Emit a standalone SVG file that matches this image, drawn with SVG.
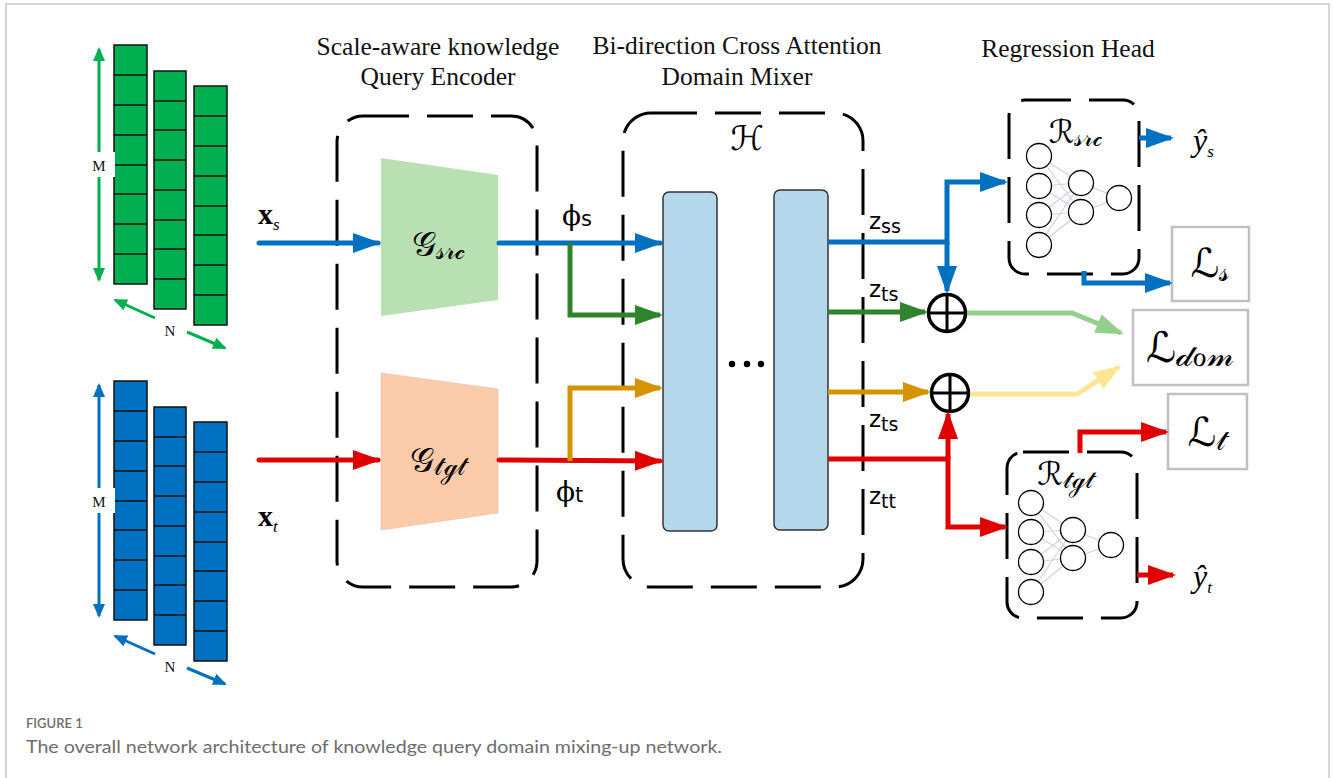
<svg xmlns="http://www.w3.org/2000/svg" width="1333" height="778" viewBox="0 0 1333 778">
<style>
.title{font-family:"Liberation Serif","Times New Roman",serif;font-size:25.5px;fill:#111;text-anchor:middle}
.dash{fill:none;stroke:#000;stroke-width:3;stroke-dasharray:46 18}
.cellg{fill:#00b050;stroke:#111;stroke-width:1.5}
.cellb{fill:#0070c0;stroke:#111;stroke-width:1.5}
.div{stroke:#111;stroke-width:1.3}
.lab{font-family:"Liberation Serif",serif;font-size:15px;fill:#111;text-anchor:middle}
.math{font-family:"DejaVu Sans","Noto Sans",sans-serif;fill:#000}
.zl{font-family:"DejaVu Sans",sans-serif;font-size:23px;fill:#000}
.zs{font-size:19px}
.blk{fill:#b4d7ec;stroke:#333;stroke-width:1.5}
.neu{fill:#fff;stroke:#000;stroke-width:1.3}
.syn{stroke:#d6cfdf;stroke-width:1.2}
.lbox{fill:#fff;stroke:#c0c0c0;stroke-width:2.5}
.ln{fill:none;stroke-width:5}
.thin{fill:none;stroke-width:3}
.cap1{font-family:Lato,"Open Sans",sans-serif;font-size:13px;font-weight:600;fill:#6d6d6d}
.cap2{font-family:Lato,"Open Sans",sans-serif;font-size:18px;fill:#6d6d6d}
</style>
<defs>
<marker id="mb" viewBox="0 0 28 20" refX="25" refY="10" markerWidth="28" markerHeight="20" markerUnits="userSpaceOnUse" orient="auto"><path d="M0,0L28,10L0,20z" fill="#0070c0"/></marker>
<marker id="mr" viewBox="0 0 28 20" refX="25" refY="10" markerWidth="28" markerHeight="20" markerUnits="userSpaceOnUse" orient="auto"><path d="M0,0L28,10L0,20z" fill="#e00000"/></marker>
<marker id="mg" viewBox="0 0 28 20" refX="25" refY="10" markerWidth="28" markerHeight="20" markerUnits="userSpaceOnUse" orient="auto"><path d="M0,0L28,10L0,20z" fill="#2f832c"/></marker>
<marker id="mo" viewBox="0 0 28 20" refX="25" refY="10" markerWidth="28" markerHeight="20" markerUnits="userSpaceOnUse" orient="auto"><path d="M0,0L28,10L0,20z" fill="#d49300"/></marker>
<marker id="mlg" viewBox="0 0 28 20" refX="25" refY="10" markerWidth="28" markerHeight="20" markerUnits="userSpaceOnUse" orient="auto"><path d="M0,0L28,10L0,20z" fill="#93d18b"/></marker>
<marker id="my" viewBox="0 0 28 20" refX="25" refY="10" markerWidth="28" markerHeight="20" markerUnits="userSpaceOnUse" orient="auto"><path d="M0,0L28,10L0,20z" fill="#ffe697"/></marker>
<marker id="sg" viewBox="0 0 14 12" refX="12" refY="6" markerWidth="14" markerHeight="12" markerUnits="userSpaceOnUse" orient="auto-start-reverse"><path d="M0,0L14,6L0,12z" fill="#00b050"/></marker>
<marker id="sb" viewBox="0 0 14 12" refX="12" refY="6" markerWidth="14" markerHeight="12" markerUnits="userSpaceOnUse" orient="auto-start-reverse"><path d="M0,0L14,6L0,12z" fill="#0070c0"/></marker>
</defs>
<rect x="0" y="0" width="1333" height="778" fill="#fff"/>
<rect x="6" y="4" width="1323" height="790" fill="none" stroke="#c8c8c8" stroke-width="1.5"/>

<!-- Titles -->
<g id="titles">
<text class="title" x="438" y="55">Scale-aware knowledge</text>
<text class="title" x="438" y="85">Query Encoder</text>
<text class="title" x="737" y="54">Bi-direction Cross Attention</text>
<text class="title" x="737" y="85">Domain Mixer</text>
<text class="title" x="1068" y="57">Regression Head</text>
</g>

<!-- Source input stack -->
<g id="source-input">
<rect class="cellg" x="114" y="45" width="33" height="239"/>
<path class="div" d="M114,75H147M114,105H147M114,135H147M114,165H147M114,194H147M114,224H147M114,254H147"/>
<rect class="cellg" x="154" y="71" width="32" height="238"/>
<path class="div" d="M154,101H186M154,130H186M154,160H186M154,190H186M154,220H186M154,249H186M154,279H186"/>
<rect class="cellg" x="194" y="86" width="33" height="239"/>
<path class="div" d="M194,116H227M194,146H227M194,176H227M194,206H227M194,235H227M194,265H227M194,295H227"/>
<line class="thin" stroke="#00b050" x1="99" y1="49" x2="99" y2="280" marker-start="url(#sg)" marker-end="url(#sg)"/>
<rect x="86" y="152" width="29" height="25" fill="#fff"/>
<text class="lab" x="99" y="171">M</text>
<line class="thin" stroke="#00b050" x1="155" y1="318" x2="115" y2="300" marker-end="url(#sg)"/>
<line class="thin" stroke="#00b050" x1="187" y1="332" x2="225" y2="348" marker-end="url(#sg)"/>
<text class="lab" x="170" y="336">N</text>
</g>

<!-- Target input stack -->
<g id="target-input">
<rect class="cellb" x="114" y="381" width="33" height="239"/>
<path class="div" d="M114,411H147M114,441H147M114,471H147M114,501H147M114,530H147M114,560H147M114,590H147"/>
<rect class="cellb" x="154" y="407" width="32" height="238"/>
<path class="div" d="M154,437H186M154,466H186M154,496H186M154,526H186M154,556H186M154,585H186M154,615H186"/>
<rect class="cellb" x="194" y="422" width="33" height="239"/>
<path class="div" d="M194,452H227M194,482H227M194,512H227M194,542H227M194,571H227M194,601H227M194,631H227"/>
<line class="thin" stroke="#0070c0" x1="99" y1="385" x2="99" y2="616" marker-start="url(#sb)" marker-end="url(#sb)"/>
<rect x="86" y="488" width="29" height="25" fill="#fff"/>
<text class="lab" x="99" y="507">M</text>
<line class="thin" stroke="#0070c0" x1="155" y1="654" x2="115" y2="636" marker-end="url(#sb)"/>
<line class="thin" stroke="#0070c0" x1="187" y1="668" x2="225" y2="684" marker-end="url(#sb)"/>
<text class="lab" x="170" y="672">N</text>
</g>

<!-- Input labels -->
<g id="xs-label"><text x="258" y="224" font-family="Liberation Serif,serif" font-weight="bold" font-size="30">x<tspan font-weight="normal" font-style="italic" font-size="17" dy="6">s</tspan></text></g>
<g id="xt-label"><text x="258" y="526" font-family="Liberation Serif,serif" font-weight="bold" font-size="30">x<tspan font-weight="normal" font-style="italic" font-size="17" dy="6">t</tspan></text></g>

<!-- Encoder -->
<g id="encoder">
<rect class="dash" x="337" y="116" width="200" height="471" rx="26"/>
</g>
<g id="g-src">
<polygon points="381,158 498,175 498,300 381,316" fill="#b9e0b3"/>
<text class="math" x="438" y="256" font-size="34" text-anchor="middle">𝒢<tspan font-size="25" dy="3">𝓈𝓇𝒸</tspan></text>
</g>
<g id="g-tgt">
<polygon points="381,373 498,389 498,513 381,530" fill="#fccba9" stroke="#e0c0b0" stroke-width="0.6"/>
<text class="math" x="438" y="472" font-size="34" text-anchor="middle">𝒢<tspan font-size="25" dy="3">𝓉ℊ𝓉</tspan></text>
</g>

<!-- Mixer -->
<g id="mixer">
<rect class="dash" x="623" y="113" width="240" height="474" rx="28"/>
<text class="math" x="747" y="150" font-size="34" text-anchor="middle">ℋ</text>
</g>
<g id="attn-block-1"><rect class="blk" x="663" y="192" width="54" height="339" rx="6"/></g>
<g id="attn-block-2"><rect class="blk" x="774" y="190" width="54" height="340" rx="6"/></g>
<g id="ellipsis"><circle cx="732" cy="364" r="3.2"/><circle cx="747" cy="364" r="3.2"/><circle cx="761" cy="364" r="3.2"/></g>

<!-- Sum nodes -->
<g id="sum-1"><circle cx="947" cy="313" r="18.5" fill="#fff" stroke="#000" stroke-width="3.5"/><path d="M947,294.5V331.5M928.5,313H965.5" stroke="#000" stroke-width="3"/></g>
<g id="sum-2"><circle cx="950" cy="393" r="18.5" fill="#fff" stroke="#000" stroke-width="3.5"/><path d="M950,374.5V411.5M931.5,393H968.5" stroke="#000" stroke-width="3"/></g>

<!-- Regression heads -->
<g id="r-src">
<rect class="dash" x="1009" y="100" width="130" height="174" rx="16"/>
<text class="math" x="1076" y="143" font-size="32" text-anchor="middle">ℛ<tspan font-size="24" dy="3">𝓈𝓇𝒸</tspan></text>
<path class="syn" d="M1039,156L1081,183M1039,156L1081,212M1039,186L1081,183M1039,186L1081,212M1039,215L1081,183M1039,215L1081,212M1039,245L1081,183M1039,245L1081,212M1081,183L1119,198M1081,212L1119,198"/>
<circle class="neu" cx="1039" cy="156" r="12.5"/><circle class="neu" cx="1039" cy="186" r="12.5"/><circle class="neu" cx="1039" cy="215" r="12.5"/><circle class="neu" cx="1039" cy="245" r="12.5"/>
<circle class="neu" cx="1081" cy="183" r="12.5"/><circle class="neu" cx="1081" cy="212" r="12.5"/>
<circle class="neu" cx="1119" cy="198" r="12.5"/>
</g>
<g id="r-tgt">
<rect class="dash" x="1007" y="452" width="130" height="166" rx="16"/>
<text class="math" x="1065" y="485" font-size="32" text-anchor="middle">ℛ<tspan font-size="24" dy="3">𝓉ℊ𝓉</tspan></text>
<path class="syn" d="M1031,503L1073,530M1031,503L1073,558M1031,532L1073,530M1031,532L1073,558M1031,562L1073,530M1031,562L1073,558M1031,592L1073,530M1031,592L1073,558M1073,530L1111,545M1073,558L1111,545"/>
<circle class="neu" cx="1031" cy="503" r="12.5"/><circle class="neu" cx="1031" cy="532" r="12.5"/><circle class="neu" cx="1031" cy="562" r="12.5"/><circle class="neu" cx="1031" cy="592" r="12.5"/>
<circle class="neu" cx="1073" cy="530" r="12.5"/><circle class="neu" cx="1073" cy="558" r="12.5"/>
<circle class="neu" cx="1111" cy="545" r="12.5"/>
</g>

<!-- Loss boxes -->
<g id="loss-s"><rect class="lbox" x="1172" y="227" width="77" height="74"/><text class="math" x="1210" y="277" font-size="40" text-anchor="middle">ℒ<tspan font-size="28" dy="4">𝓈</tspan></text></g>
<g id="loss-dom"><rect class="lbox" x="1133" y="310" width="115" height="75"/><text class="math" x="1190" y="362" font-size="42" text-anchor="middle">ℒ<tspan font-size="32" dy="4">𝒹ℴ𝓂</tspan></text></g>
<g id="loss-t"><rect class="lbox" x="1168" y="394" width="79" height="75"/><text class="math" x="1207" y="446" font-size="40" text-anchor="middle">ℒ<tspan font-size="28" dy="4">𝓉</tspan></text></g>

<!-- Outputs -->
<g id="ys-label"><text x="1193" y="151" font-family="Liberation Serif,serif" font-style="italic" font-size="32">ŷ<tspan font-size="17" dy="6">s</tspan></text></g>
<g id="yt-label"><text x="1193" y="587" font-family="Liberation Serif,serif" font-style="italic" font-size="32">ŷ<tspan font-size="17" dy="6">t</tspan></text></g>

<!-- Feature labels -->
<g id="feature-labels">
<text x="562" y="225" font-family="DejaVu Serif,serif" font-size="28">ϕ<tspan font-family="DejaVu Sans,sans-serif" font-size="21" dy="1">s</tspan></text>
<text x="556" y="501" font-family="DejaVu Serif,serif" font-size="28">ϕ<tspan font-family="DejaVu Sans,sans-serif" font-size="21" dy="1">t</tspan></text>
<text class="zl" x="869" y="229">z<tspan class="zs" dy="4">ss</tspan></text>
<text class="zl" x="869" y="297">z<tspan class="zs" dy="4">ts</tspan></text>
<text class="zl" x="869" y="427">z<tspan class="zs" dy="4">ts</tspan></text>
<text class="zl" x="869" y="504">z<tspan class="zs" dy="4">tt</tspan></text>
</g>

<!-- Connectors -->
<g id="connectors" stroke-linejoin="miter">
<line class="ln" stroke="#0070c0" stroke-linecap="round" x1="259" y1="243" x2="378" y2="243" marker-end="url(#mb)"/>
<line class="ln" stroke="#e00000" stroke-linecap="round" x1="259" y1="460" x2="378" y2="460" marker-end="url(#mr)"/>
<line class="ln" stroke="#0070c0" stroke-linecap="round" x1="499" y1="243" x2="660" y2="243" marker-end="url(#mb)"/>
<polyline class="ln" stroke="#2f832c" points="570,243 570,315 660,315" marker-end="url(#mg)"/>
<line class="ln" stroke="#e00000" stroke-linecap="round" x1="499" y1="460" x2="660" y2="461" marker-end="url(#mr)"/>
<polyline class="ln" stroke="#d49300" points="570,461 570,388 660,388" marker-end="url(#mo)"/>
<polyline class="ln" stroke="#0070c0" points="828,242 947,242 947,182 1005,182" marker-end="url(#mb)"/>
<line class="ln" stroke="#0070c0" x1="947" y1="242" x2="947" y2="291" marker-end="url(#mb)"/>
<line class="ln" stroke="#2f832c" x1="828" y1="312" x2="925" y2="312" marker-end="url(#mg)"/>
<line class="ln" stroke="#d49300" x1="828" y1="392" x2="928" y2="392" marker-end="url(#mo)"/>
<polyline class="ln" stroke="#e00000" points="828,459 948,459 948,527 1005,527" marker-end="url(#mr)"/>
<line class="ln" stroke="#e00000" x1="948" y1="459" x2="948" y2="414" marker-end="url(#mr)"/>
<polyline class="ln" stroke="#93d18b" points="967,313 1072,313 1121,333" marker-end="url(#mlg)"/>
<polyline class="ln" stroke="#ffe697" points="970,394 1077,394 1119,367" marker-end="url(#my)"/>
<line class="ln" stroke="#0070c0" x1="1139" y1="138" x2="1171" y2="138" marker-end="url(#mb)"/>
<polyline class="ln" stroke="#0070c0" points="1084,271 1084,283 1170,283" marker-end="url(#mb)"/>
<line class="ln" stroke="#e00000" x1="1137" y1="575" x2="1173" y2="575" marker-end="url(#mr)"/>
<polyline class="ln" stroke="#e00000" points="1080,453 1080,432 1166,432" marker-end="url(#mr)"/>
</g>

<!-- Caption -->
<g id="caption">
<text class="cap1" x="26" y="728">FIGURE 1</text>
<text class="cap2" x="26" y="753" textLength="696" lengthAdjust="spacingAndGlyphs">The overall network architecture of knowledge query domain mixing-up network.</text>
</g>
</svg>
